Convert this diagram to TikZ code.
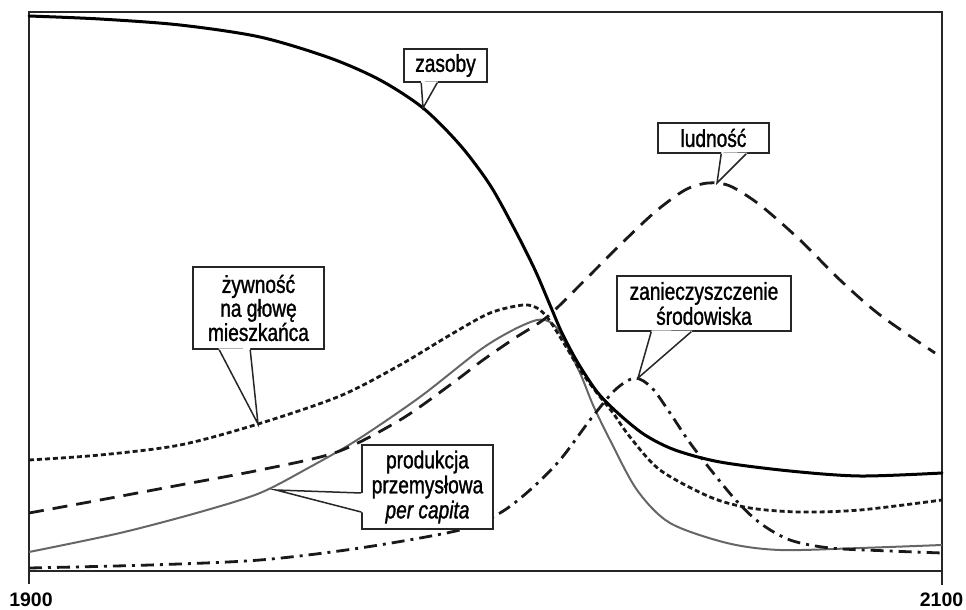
\documentclass[tikz,border=0pt]{standalone}
\usepackage{fontspec}
\setmainfont{Liberation Sans}
\newfontfamily\lblfont[FakeStretch=0.78,FakeBold=1.2]{Liberation Sans}
\usetikzlibrary{calc}
\newcommand\mycallout[3]{%
  \fill[white] ($(#1)!-1.6pt!(#3)$) -- ($(#1)!2.5pt!(#3)$) -- ($(#2)!2.5pt!(#3)$) -- ($(#2)!-1.6pt!(#3)$) -- cycle;
  \draw[ptr] (#1) -- (#3) -- (#2);}
\begin{document}
\begin{tikzpicture}[x=1pt,y=-1pt,
  frame/.style={draw=black!85, line width=2.2pt},
  lbl/.style={draw=black!85, line width=1.6pt, fill=white, align=center, inner sep=0pt,
              font=\lblfont\fontsize{24.5}{25}\selectfont},
  ptr/.style={draw=black!85, line width=1.5pt, line join=miter},
  axlbl/.style={font=\bfseries\fontsize{19.5}{22}\selectfont, anchor=base, inner sep=0pt},
  resources/.style={draw=black, line width=3pt, line cap=round},
  population/.style={draw=black!90, line width=2.8pt, dash pattern=on 15pt off 9pt},
  food/.style={draw=black!90, line width=2.8pt, dash pattern=on 5pt off 3pt},
  industry/.style={draw=black!60, line width=2pt},
  pollution/.style={draw=black!90, line width=2.8pt, dash pattern=on 13pt off 6pt on 3pt off 6pt},
]
\useasboundingbox (0,0) rectangle (966,610);
% frame
\coordinate (fTL) at (29,12);
\coordinate (fBR) at (942,571);
\draw[frame] (fTL) rectangle (fBR);
\coordinate (t1a) at (29,571); \coordinate (t1b) at (29,584);
\coordinate (t2a) at (942,571); \coordinate (t2b) at (942,585);
\draw[frame] (t1a) -- (t1b);
\draw[frame] (t2a) -- (t2b);
\node[axlbl] (y1900) at (31,606) {1900};
\node[axlbl] (y2100) at (941.5,606.5) {2100};

% curves
\draw[industry] plot[smooth, tension=0.5] coordinates {
 (29,552) (120,533) (200,512) (260,493) (310,467) (357,440) (420,397) (480,350)
 (513,330) (537,320) (550,322) (560,333) (580,373) (593,405) (610,440) (637,490)
 (670,523) (727,543) (780,550) (860,548) (942,545)};
\draw[pollution] plot[smooth, tension=0.5] coordinates {
 (29,568) (150,565) (260,560) (360,548) (460,530) (500,513) (530,490) (560,460)
 (590,420) (615,390) (635,378) (652,388) (670,413) (693,447) (733,497) (760,523)
 (790,540) (830,548) (890,551) (942,553)};
\draw[population] plot[smooth, tension=0.5] coordinates {
 (29,513) (100,500) (180,485) (260,470) (337,452) (400,420) (450,385) (483,360)
 (515,338) (547,317) (583,282) (620,245) (655,212) (685,190) (708,183) (730,186)
 (760,205) (800,240) (840,280) (880,315) (935,353)};
\draw[food] plot[smooth, tension=0.5] coordinates {
 (29,460) (100,455) (180,445) (258,424) (340,396) (400,365) (450,335) (490,313)
 (523,305) (537,308) (547,317) (557,332) (568,350) (580,370) (597,393) (613,413)
 (630,437) (660,470) (710,497) (750,508) (800,512) (860,510) (942,500)};
\draw[resources] plot[smooth, tension=0.5] coordinates {
 (29,16) (100,19) (180,25) (260,37) (330,58) (380,80) (423,108) (460,145)
 (490,185) (515,230) (535,270) (550,305) (562,333) (578,363) (598,393) (620,415)
 (645,435) (675,450) (720,462) (790,471) (860,476) (942,473)};

% labels
\node[lbl, minimum width=83pt, minimum height=33pt] (zas) at (445.5,65.5) {zasoby};
\node[lbl, minimum width=111pt, minimum height=30pt] (lud) at (713.5,138) {ludność};
\node[lbl, minimum width=131pt, minimum height=82pt,
      font=\lblfont\fontsize{24.5}{22.5}\selectfont] (zyw) at (258.5,308) {żywność\\na głowę\\mieszkańca};
\node[lbl, minimum width=174pt, minimum height=55pt] (zan) at (704,303.5) {zanieczyszczenie\\środowiska};
\node[lbl, minimum width=131pt, minimum height=84pt] (pro) at (427.5,487) {produkcja\\przemysłowa\\\textit{per capita}};

% callout pointers
\coordinate (zasA) at ([xshift=18pt]zas.south west);
\coordinate (zasB) at ([xshift=34pt]zas.south west);
\coordinate (zasT) at (423,108);
\mycallout{zasA}{zasB}{zasT}
\coordinate (ludA) at ([xshift=64pt]lud.south west);
\coordinate (ludB) at ([xshift=89pt]lud.south west);
\coordinate (ludT) at (717,183);
\mycallout{ludA}{ludB}{ludT}
\coordinate (zywA) at ([xshift=27pt]zyw.south west);
\coordinate (zywB) at ([xshift=58pt]zyw.south west);
\coordinate (zywT) at (258,424);
\mycallout{zywA}{zywB}{zywT}
\coordinate (zanA) at ([xshift=35pt]zan.south west);
\coordinate (zanB) at ([xshift=75pt]zan.south west);
\coordinate (zanT) at (638,378);
\mycallout{zanA}{zanB}{zanT}
\coordinate (proA) at ([yshift=-6pt]pro.west);
\coordinate (proB) at ([yshift=-25pt]pro.west);
\coordinate (proT) at (276,490);
\mycallout{proA}{proB}{proT}
\end{tikzpicture}
\end{document}
